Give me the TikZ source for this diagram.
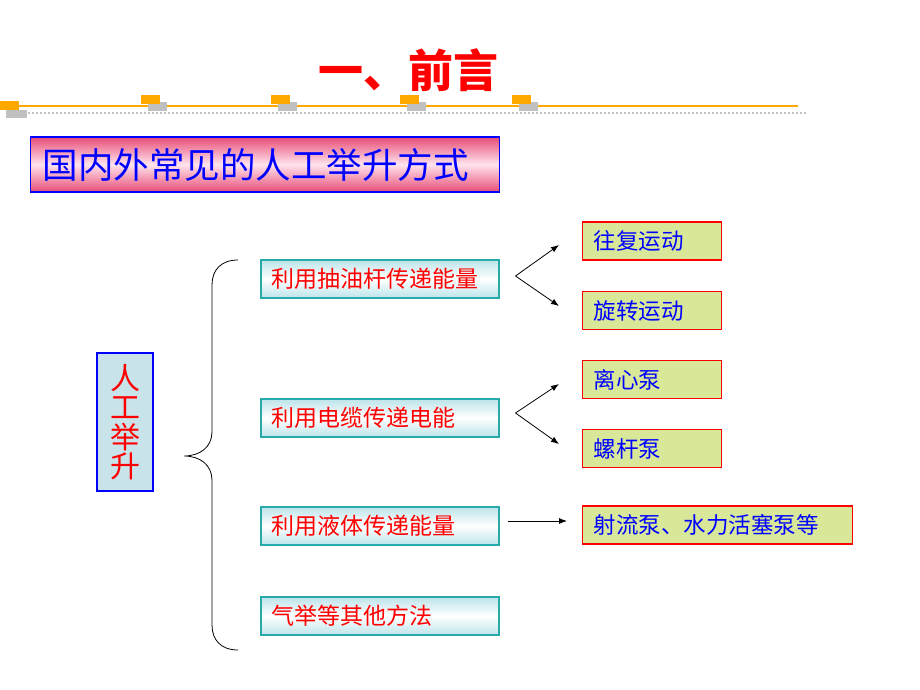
\documentclass[tikz,border=0pt]{standalone}
\usepackage{fontspec}
\setmainfont{Noto Sans CJK SC}
\usetikzlibrary{arrows.meta,calc,positioning}

\definecolor{pinkD}{RGB}{232,76,118}
\definecolor{pinkL}{RGB}{255,228,238}
\definecolor{cyanL}{RGB}{188,228,234}
\definecolor{cyanM}{RGB}{200,228,234}
\definecolor{tealB}{RGB}{40,170,170}
\definecolor{greenY}{RGB}{216,232,152}
\definecolor{orangeD}{RGB}{255,168,0}
\definecolor{grayS}{RGB}{192,192,192}

\begin{document}
\begin{tikzpicture}[x=1pt,y=-1pt,
                    title/.style ={text=red, font=\fontsize{45}{47}\selectfont\bfseries},
                    head/.style  ={rectangle, draw=blue, line width=1.2pt, top color=pinkD, bottom color=pinkD, middle color=pinkL,
                                   text=blue, text width=445pt, inner xsep=12pt, inner ysep=0pt, minimum height=55pt,
                                   align=left, anchor=west, font=\fontsize{35.5}{37}\selectfont},
                    lift/.style  ={rectangle, draw=blue, line width=1.2pt, fill=cyanM, text=red, minimum width=56pt,
                                   minimum height=138pt, align=center, font=\fontsize{30}{29.5}\selectfont},
                    mid/.style   ={rectangle, draw=tealB, line width=1.5pt, top color=cyanL, bottom color=cyanL, middle color=white,
                                   text=red, text width=216pt, inner xsep=11pt, inner ysep=0pt, minimum height=38pt,
                                   align=left, anchor=west, font=\fontsize{23}{24}\selectfont},
                    kind/.style  ={rectangle, draw=red, line width=1.2pt, fill=greenY, text=blue, text width=117pt,
                                   inner xsep=11pt, inner ysep=0pt, minimum height=38pt, align=left, anchor=west,
                                   font=\fontsize{22.5}{24}\selectfont},
                    arr/.style   ={-{Latex[length=8pt,width=6pt]}, draw, line width=0.8pt, color=black}]

      \useasboundingbox (0,0) rectangle (920,690);

      % title and rule
      \node[title] at(408, 70) (ttl) {一、前言};
      \draw[grayS, line width=2pt, dotted] (8,113) -- (808,113);
      \draw[orangeD, line width=2pt] (10,106) -- (798,106);
      \fill[grayS]   (6,110) rectangle (27,118);
      \fill[orangeD] (0,101) rectangle (19,110);
      \foreach \x in {141,271,400,512}
        {\fill[grayS]   (\x+7,102) rectangle (\x+26,111);
         \fill[orangeD] (\x,95)    rectangle (\x+19,104);}

      \node[head] at(30, 164.5) (hd) {国内外常见的人工举升方式};

      % left box and brace
      \node[lift] at(125, 422) (lift) {人\\工\\举\\升};
      \draw[line width=0.8pt] (238,260) .. controls (221,260) and (212,270) .. (212,285) -- (212,432)
                               .. controls (212,447) and (200,456) .. (184,456)
                               .. controls (200,456) and (212,465) .. (212,480) -- (212,625)
                               .. controls (212,640) and (221,650) .. (238,650);

      % ways
      \node[mid] at(260, 279)  (m1) {利用抽油杆传递能量};
      \node[mid] at(260, 418)  (m2) {利用电缆传递电能};
      \node[mid] at(260, 526)  (m3) {利用液体传递能量};
      \node[mid] at(260, 616)  (m4) {气举等其他方法};

      % kinds
      \node[kind] at(582, 241)   (r1) {往复运动};
      \node[kind] at(582, 310.5) (r2) {旋转运动};
      \node[kind] at(582, 379.5) (r3) {离心泵};
      \node[kind] at(582, 448.5) (r4) {螺杆泵};
      \node[kind, text width=248pt] at(582, 525) (r5) {射流泵、水力活塞泵等};

      \coordinate (f1) at($(m1.east)+(16,-3)$);
      \coordinate (t1) at($(r1.west)+(-23,4)$);
      \coordinate (t2) at($(r2.west)+(-23,-4.5)$);
      \coordinate (f2) at($(m2.east)+(16,-5)$);
      \coordinate (t3) at($(r3.west)+(-23,4.5)$);
      \coordinate (t4) at($(r4.west)+(-23,-4.5)$);
      \coordinate (f3) at($(m3.east)+(8,-5)$);
      \coordinate (t5) at($(r5.west)+(-15,-4)$);
      \path[arr] (f1) -- (t1);
      \path[arr] (f1) -- (t2);
      \path[arr] (f2) -- (t3);
      \path[arr] (f2) -- (t4);
      \path[arr] (f3) -- (t5);
    \end{tikzpicture}
\end{document}
